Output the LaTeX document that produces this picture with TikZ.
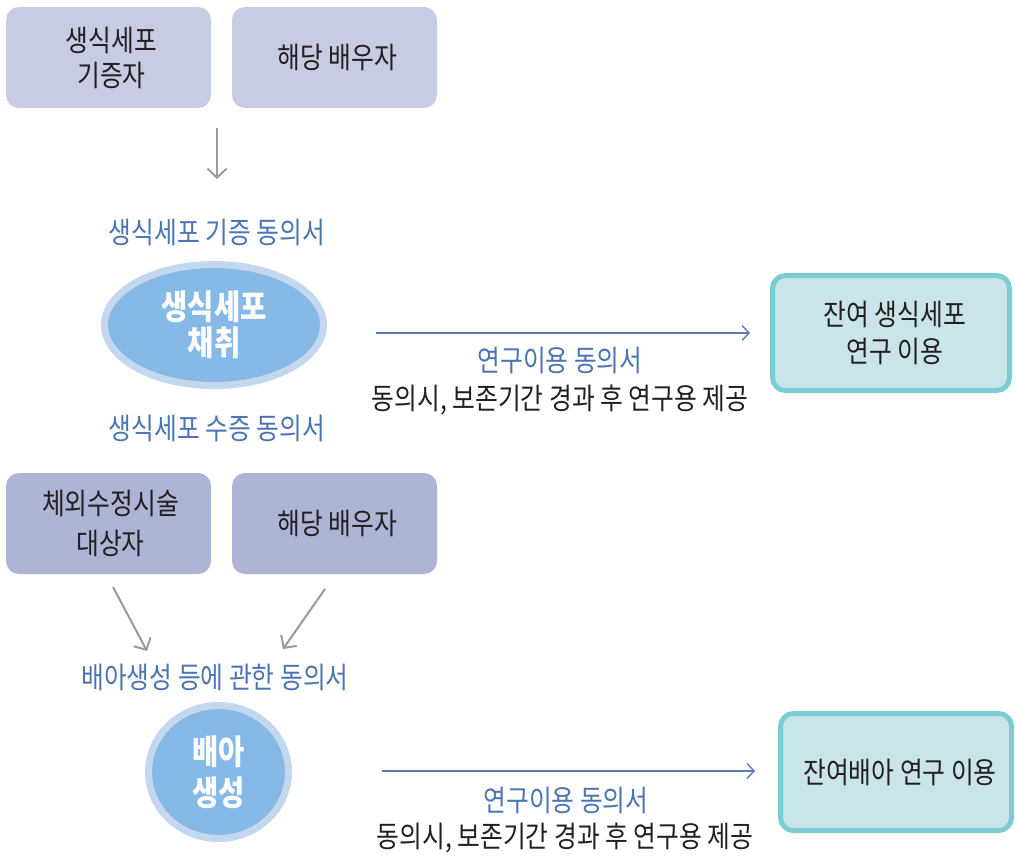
\documentclass[tikz,border=0pt]{standalone}
\usepackage{fontspec}
\setmainfont{Noto Sans CJK KR}[FakeStretch=0.84]
\usetikzlibrary{arrows.meta,shapes.geometric}
\definecolor{boxA}{HTML}{C8CCE2}
\definecolor{boxC}{HTML}{ADB4D6}
\definecolor{tealfill}{HTML}{C9E5E9}
\definecolor{tealline}{HTML}{7DCCD2}
\definecolor{ellfill}{HTML}{86B9E6}
\definecolor{ellring}{HTML}{C3D7EE}
\definecolor{grayarr}{HTML}{9A9A9A}
\definecolor{bluetxt}{HTML}{4A74B4}
\definecolor{bluearr}{HTML}{5A7DB8}
\definecolor{darktxt}{HTML}{231F20}
\tikzset{
  pbox/.style={rounded corners=13pt, minimum width=205pt, minimum height=101pt, inner sep=0pt, align=center, text=darktxt, font=\fontsize{29.5}{35}\selectfont},
  tbox/.style={rounded corners=13pt, draw=tealline, line width=5pt, fill=tealfill, inner sep=0pt, align=center, text=darktxt, font=\fontsize{29.5}{37}\selectfont},
  blob/.style={ellipse, draw=ellring, line width=7pt, fill=ellfill, inner sep=0pt, align=center, text=white, font=\fontsize{34}{36}\bfseries\selectfont},
  bluelbl/.style={text=bluetxt, font=\fontsize{29.5}{32}\selectfont, inner sep=0pt},
  darklbl/.style={text=darktxt, font=\fontsize{29.5}{32}\selectfont, inner sep=0pt},
  grayarrow/.style={draw=grayarr, line width=2pt, -{Straight Barb[length=9pt, width=19pt, line width=2pt]}},
  bluearrow/.style={draw=bluearr, line width=1.4pt, -{Straight Barb[length=7pt, width=15pt, line width=1.4pt]}}
}
\begin{document}
\begin{tikzpicture}[x=1pt,y=-1pt]
\useasboundingbox (0,0) rectangle (1016,858);
% top boxes
\node[pbox, fill=boxA] (A) at (108.5,57.5) {\hspace*{6pt}생식세포\\\hspace*{6pt}기증자};
\node[pbox, fill=boxA] (B) at (334.5,57.5) {\hspace*{6pt}해당 배우자};
\coordinate (a1s) at (217,128);
\coordinate (a1e) at (217,179);
\draw[grayarrow] (a1s) -- (a1e);
\node[bluelbl] (L1) at (217,232) {생식세포 기증 동의서};
% ellipse
\node[blob, minimum width=219pt, minimum height=121pt, font=\fontsize{34}{36}\bfseries\selectfont] (E) at (214,325) {생식세포\\채취};
\node[bluelbl] (L2) at (217,428) {생식세포 수증 동의서};
% right arrow 1
\node[tbox, minimum width=237pt, minimum height=115pt] (T1) at (891,333) {\hspace*{8pt}잔여 생식세포\\\hspace*{8pt}연구 이용};
\coordinate (r1s) at (376,333);
\coordinate (r1e) at (750,333);
\draw[bluearrow] (r1s) -- (r1e);
\node[bluelbl] (L3) at (560,360) {연구이용 동의서};
\node[darklbl] (L4) at (560,400) {동의시, 보존기간 경과 후 연구용 제공};
% lower boxes
\node[pbox, fill=boxC, font=\fontsize{29.5}{40}\selectfont] (C) at (108.5,523.5) {\hspace*{4pt}체외수정시술\\\hspace*{4pt}대상자};
\node[pbox, fill=boxC] (D) at (334.5,523.5) {\hspace*{6pt}해당 배우자};
\coordinate (c1s) at (113,587);
\coordinate (c1e) at (147,651);
\coordinate (d1s) at (325,589);
\coordinate (d1e) at (283,649);
\draw[grayarrow] (c1s) -- (c1e);
\draw[grayarrow] (d1s) -- (d1e);
\node[bluelbl] (L5) at (215,677) {배아생성 등에 관한 동의서};
% circle
\node[blob, minimum width=140pt, minimum height=133pt, font=\fontsize{34}{41}\bfseries\selectfont] (P) at (218.5,772) {배아\\생성};
\node[tbox, minimum width=231pt, minimum height=117pt] (T2) at (896,772) {\hspace*{8pt}잔여배아 연구 이용};
\coordinate (r2s) at (382,771);
\coordinate (r2e) at (755,771);
\draw[bluearrow] (r2s) -- (r2e);
\node[bluelbl] (L6) at (566,800) {연구이용 동의서};
\node[darklbl] (L7) at (565,838) {동의시, 보존기간 경과 후 연구용 제공};
\end{tikzpicture}
\end{document}
